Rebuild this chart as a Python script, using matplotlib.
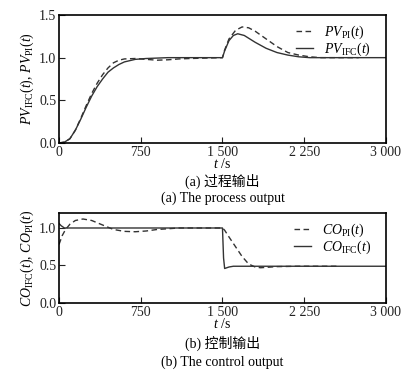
import matplotlib
matplotlib.use("Agg")
import matplotlib.pyplot as plt

plt.rcParams['font.family'] = ['Liberation Serif', 'Noto Sans CJK SC']
plt.rcParams['mathtext.fontset'] = 'custom'
plt.rcParams['mathtext.rm'] = 'Liberation Serif'
plt.rcParams['mathtext.it'] = 'Liberation Serif:italic'

# --- data ---
pv_ifc_t = [0, 50, 100, 150, 200, 250, 300, 350, 400, 450, 500, 550, 600, 700, 800, 1000, 1500,
            1520, 1560, 1600, 1640, 1700, 1800, 1900, 2000, 2100, 2200, 2300, 3000]
pv_ifc_v = [0, 0.01, 0.05, 0.15, 0.28, 0.42, 0.55, 0.66, 0.75, 0.83, 0.88, 0.92, 0.95, 0.98, 0.99, 1.0, 1.0,
            1.08, 1.2, 1.26, 1.28, 1.26, 1.18, 1.11, 1.06, 1.03, 1.01, 1.0, 1.0]
pv_pi_t = [0, 50, 100, 150, 200, 250, 300, 350, 400, 450, 500, 550, 600, 700, 800, 900, 1000, 1100,
           1200, 1500, 1520, 1560, 1620, 1680, 1740, 1800, 1900, 2000, 2100, 2200, 2300, 2400, 2750]
pv_pi_v = [0, 0.01, 0.05, 0.15, 0.29, 0.44, 0.58, 0.70, 0.80, 0.88, 0.94, 0.97, 0.985, 0.99, 0.98, 0.97,
           0.975, 0.985, 0.99, 1.0, 1.09, 1.22, 1.32, 1.36, 1.35, 1.31, 1.22, 1.13, 1.06, 1.03, 1.01, 1.0, 1.0]

co_ifc_t = [0, 20, 50, 1500, 1510, 1520, 1560, 1600, 3000]
co_ifc_v = [1.06, 1.03, 1.0, 1.0, 0.6, 0.46, 0.48, 0.49, 0.49]
co_pi_t = [0, 30, 60, 100, 150, 220, 300, 400, 500, 600, 700, 800, 900, 1000, 1100, 1500,
           1520, 1560, 1620, 1680, 1740, 1800, 1850, 1900, 2000, 2200, 2550]
co_pi_v = [0.78, 0.9, 0.98, 1.05, 1.1, 1.12, 1.1, 1.04, 0.98, 0.955, 0.95, 0.96, 0.98, 0.99, 1.0, 1.0,
           0.97, 0.88, 0.75, 0.62, 0.52, 0.48, 0.47, 0.475, 0.485, 0.49, 0.49]

xticks = [0, 750, 1500, 2250, 3000]
xticklabels = ['0', '750', '1 500', '2 250', '3 000']

fig = plt.figure(figsize=(4.17, 3.71), dpi=100)
ax1 = fig.add_axes([0.1415, 0.6146, 0.784, 0.345])
ax2 = fig.add_axes([0.1415, 0.1833, 0.784, 0.2426])

fs = 10
lc = '#333333'
for ax in (ax1, ax2):
    ax.set_xlim(0, 3000)
    ax.set_xticks(xticks)
    ax.set_xticklabels(xticklabels)
    ax.tick_params(direction='in', length=4, width=0.8, labelsize=fs, pad=2, colors='#222222')
    ax.tick_params(axis='x', pad=2)
    for s in ax.spines.values():
        s.set_linewidth(1.2)
    ax.set_xlabel(r'$t$ /s', fontsize=fs, labelpad=-1)

ax1.plot(pv_pi_t, pv_pi_v, ls=(0, (4, 2.5)), color=lc, lw=1.0, label=r'$PV_{\rm PI}(t)$')
ax1.plot(pv_ifc_t, pv_ifc_v, ls='-', color=lc, lw=1.0, label=r'$PV_{\rm IFC}(t)$')
ax1.set_ylim(0, 1.5)
ax1.set_yticks([0, 0.5, 1.0, 1.5])
ax1.set_yticklabels(['0.0', '0.5', '1.0', '1.5'])
ax1.set_ylabel(r'$PV_{\rm IFC}(t)$, $PV_{\rm PI}(t)$', fontsize=fs, labelpad=2)
ax1.legend(loc='upper right', frameon=False, fontsize=fs, handlelength=1.2, handletextpad=0.8,
           labelspacing=0.0, borderaxespad=0.2, bbox_to_anchor=(0.98, 1.0))

ax2.plot(co_pi_t, co_pi_v, ls=(0, (4, 2.5)), color=lc, lw=1.0, label=r'$CO_{\rm PI}(t)$')
ax2.plot(co_ifc_t, co_ifc_v, ls='-', color=lc, lw=1.0, label=r'$CO_{\rm IFC}(t)$')
ax2.set_ylim(0, 1.2)
ax2.set_yticks([0, 0.5, 1.0])
ax2.set_yticklabels(['0.0', '0.5', '1.0'])
ax2.set_ylabel(r'$CO_{\rm IFC}(t)$, $CO_{\rm PI}(t)$', fontsize=fs, labelpad=2)
ax2.legend(loc='upper right', frameon=False, fontsize=fs, handlelength=1.2, handletextpad=0.8,
           labelspacing=0.0, borderaxespad=0.2, bbox_to_anchor=(0.98, 1.0))

cx = 0.1415 + 0.784 / 2
fig.text(cx, 1 - 181 / 371, '(a) 过程输出', ha='center', va='center', fontsize=fs)
fig.text(cx, 1 - 198 / 371, '(a) The process output', ha='center', va='center', fontsize=fs)
fig.text(cx, 1 - 343 / 371, '(b) 控制输出', ha='center', va='center', fontsize=fs)
fig.text(cx, 1 - 362 / 371, '(b) The control output', ha='center', va='center', fontsize=fs)

fig.savefig('out.png', dpi=100)
